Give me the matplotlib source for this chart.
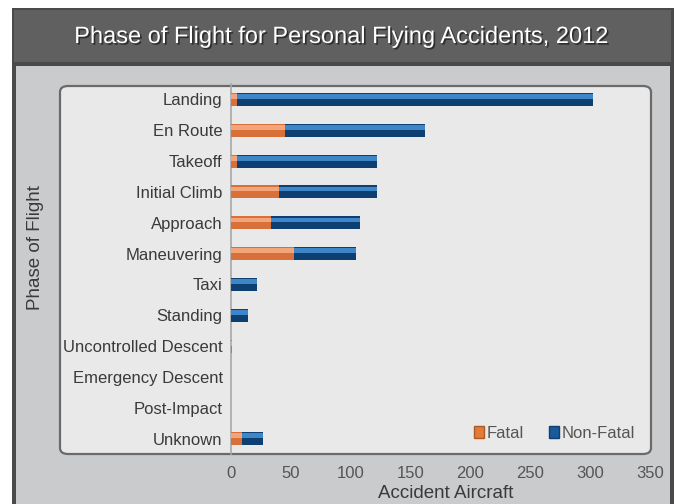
import matplotlib
matplotlib.use("Agg")
import matplotlib.pyplot as plt
from matplotlib.patches import FancyBboxPatch, Rectangle, Patch
import matplotlib.patheffects as pe
import numpy as np

phases = ["Landing", "En Route", "Takeoff", "Initial Climb", "Approach",
          "Maneuvering", "Taxi", "Standing", "Uncontrolled Descent",
          "Emergency Descent", "Post-Impact", "Unknown"]
fatal = [5, 45, 5, 40, 33, 53, 0, 0, 1, 0, 0, 9]
non_fatal = [297, 117, 117, 82, 75, 51, 22, 14, 0, 0, 0, 18]
xticks = [0, 50, 100, 150, 200, 250, 300, 350]

title = "Phase of Flight for Personal Flying Accidents, 2012"

FONT = ["Liberation Sans Narrow", "Liberation Sans", "DejaVu Sans"]
plt.rcParams['font.family'] = FONT

W, H = 678, 504
fig = plt.figure(figsize=(W / 100, H / 100), dpi=100)
fig.patch.set_facecolor("white")

def fx(px): return px / W
def fy(py): return 1 - py / H

# outer dark frame
fig.patches.append(Rectangle((fx(12), 0), fx(662), fy(8), transform=fig.transFigure,
                             facecolor="#4a4a4a", edgecolor="none", zorder=0))
# title band
fig.patches.append(Rectangle((fx(14), fy(62)), fx(657), fy(10) - fy(62), transform=fig.transFigure,
                             facecolor="#606060", edgecolor="none", zorder=0.5))
# light gray panel
fig.patches.append(Rectangle((fx(16), 0), fx(654), fy(66), transform=fig.transFigure,
                             facecolor="#c9cbcd", edgecolor="none", zorder=0.6))
# inner rounded panel
fig.patches.append(FancyBboxPatch((fx(60), fy(454)), fx(591), fy(86) - fy(454),
                                  boxstyle="round,pad=0,rounding_size=0.012",
                                  transform=fig.transFigure, facecolor="#e9e9e9",
                                  edgecolor="#6a6a6a", linewidth=1.6, zorder=0.7))

fig.text(fx(342), fy(37), title, ha="center", va="center", color="white", fontsize=17,
         path_effects=[pe.withSimplePatchShadow(offset=(1.2, -1.2), shadow_rgbFace="#222222", alpha=0.8)])

ax = fig.add_axes([fx(231), fy(454), fx(650) - fx(231), fy(84) - fy(454)])
ax.set_facecolor("none")
ax.set_zorder(2)

y = np.arange(len(phases))
fatal_a = np.array(fatal, dtype=float)
nonf_a = np.array(non_fatal, dtype=float)
h = 0.42

# main bars (darker) then lighter highlight on the upper part
ax.barh(y, fatal_a, height=h, color="#d9703a", edgecolor="none", zorder=3)
ax.barh(y, nonf_a, left=fatal_a, height=h, color="#0d3f73", edgecolor="none", zorder=3)
ax.barh(y - h * 0.22, fatal_a, height=h * 0.36, color="#f2a47a", edgecolor="none", zorder=4)
ax.barh(y - h * 0.22, nonf_a, left=fatal_a, height=h * 0.36, color="#3f86c8", edgecolor="none", zorder=4)

ax.set_ylim(len(phases) - 0.5, -0.5)
ax.set_xlim(0, 350)
ax.set_yticks(y)
ax.set_yticklabels(phases, fontsize=12, color="#3a3a3a")
ax.set_xticks(xticks)
ax.set_xticklabels([str(t) for t in xticks], fontsize=12, color="#555555")
ax.tick_params(axis="both", length=0, pad=6)
ax.tick_params(axis="x", pad=9)
for s in ["top", "right", "bottom"]:
    ax.spines[s].set_visible(False)
ax.spines["left"].set_color("#a8a8a8")
ax.spines["left"].set_linewidth(1.2)

fig.text(fx(446), fy(493), "Accident Aircraft", ha="center", va="center",
         fontsize=13.5, color="#3a3a3a")
fig.text(fx(36), fy(248), "Phase of Flight", ha="center", va="center", rotation=90,
         fontsize=13.5, color="#3a3a3a")

handles = [Patch(facecolor="#e07b3c", edgecolor="#b05a20"),
           Patch(facecolor="#1a5a9a", edgecolor="#0d3f73")]
leg = ax.legend(handles, ["Fatal", "Non-Fatal"], loc="lower right", ncol=2,
                frameon=False, fontsize=12, handlelength=0.6, handleheight=0.8,
                handletextpad=0.15, columnspacing=1.5,
                bbox_to_anchor=(1.0, -0.005), labelcolor="#555555")

fig.savefig("out.png", dpi=100, facecolor=fig.get_facecolor())
